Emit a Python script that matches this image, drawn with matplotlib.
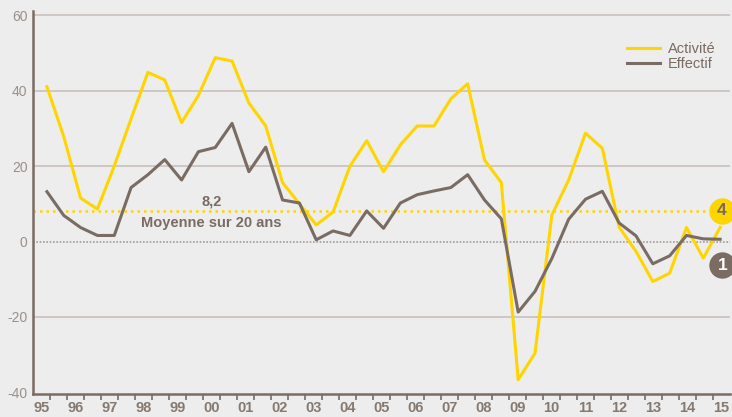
import numpy as np
import matplotlib
matplotlib.use("Agg")
import matplotlib.pyplot as plt

plt.rcParams['font.family'] = ['Liberation Sans', 'DejaVu Sans']

# semestrial values, 1995 H1 -> 2015 H1
activite = [41, 27.8, 11.5, 8.6, 20, 32.5, 44.8, 42.8, 31.5, 38.7,
            48.7, 47.8, 36.7, 30.6, 15.6, 10, 4.4, 7.8, 19.9, 26.7,
            18.5, 25.6, 30.6, 30.6, 37.8, 41.8, 21.6, 15.6, -36.6, -29.6,
            7, 16.3, 28.7, 24.7, 3.8, -2.6, -10.6, -8.4, 3.7, -4.4, 3.7]
effectif = [13.2, 6.9, 3.7, 1.6, 1.6, 14.3, 17.7, 21.7, 16.3, 23.8,
            24.9, 31.3, 18.5, 25, 11, 10.2, 0.45, 2.8, 1.6, 8.1,
            3.5, 10.2, 12.4, 13.4, 14.3, 17.7, 11, 6, -18.7, -13.2,
            -4.5, 5.9, 11.2, 13.3, 4.9, 1.5, -5.9, -3.8, 1.6, 0.7, 0.6]
years = ["95", "96", "97", "98", "99", "00", "01", "02", "03", "04", "05",
         "06", "07", "08", "09", "10", "11", "12", "13", "14", "15"]
moyenne = 8.2
badge_act = "4"
badge_eff = "1"

YELLOW = "#FFD500"
BROWN = "#7A6B63"
BG = "#EDEDED"
GRID = "#CCC4BF"

fig = plt.figure(figsize=(7.32, 4.17), dpi=100, facecolor=BG)
ax = fig.add_axes([33/732, 23/417, 697/732, 383.5/417], facecolor=BG)

xs = 0.82 + 0.99*np.arange(len(activite))

for v in [60, 40, 20, -20]:
    ax.axhline(v, color=GRID, lw=1.3, zorder=1)
ax.axhline(0, color="#A49C97", lw=1.2, ls=(0, (1, 1)), zorder=1)
ax.plot([0, 39.7], [moyenne, moyenne], color=YELLOW, lw=1.8, ls=(0, (1, 1.6)), zorder=2)

ax.plot(xs, activite, color=YELLOW, lw=2.2, zorder=3, label="Activité")
ax.plot(xs, effectif, color=BROWN, lw=2.2, zorder=4, label="Effectif")

ax.text(10.5, moyenne + 2.5, "8,2", color=BROWN, fontsize=10.5, fontweight="bold",
        ha="center", va="center")
ax.text(10.5, moyenne - 3.3, "Moyenne sur 20 ans", color=BROWN, fontsize=10.5,
        fontweight="bold", ha="center", va="center")

# badges at the right end
ax.plot([40.5], [moyenne], marker="o", ms=19, color=YELLOW, mec="none", clip_on=False, zorder=5)
ax.text(40.5, moyenne, badge_act, color=BROWN, fontsize=12.5, fontweight="bold",
        ha="center", va="center", zorder=6)
ax.plot([40.55], [-6.3], marker="o", ms=19, color=BROWN, mec="none", clip_on=False, zorder=5)
ax.text(40.55, -6.3, badge_eff, color="white", fontsize=12.5, fontweight="bold",
        ha="center", va="center", zorder=6)

ax.set_xlim(0, 41)
ax.set_ylim(-40.4, 61.2)

ax.set_yticks([60, 40, 20, 0, -20, -40])
ax.set_yticklabels(["60", "40", "20", "0", "-20", "-40"])
ax.tick_params(axis="y", length=0, pad=4, labelsize=10, labelcolor="#9A908A")

ax.set_xticks(np.arange(1, 41), minor=False)
ax.set_xticklabels([])
ax.tick_params(axis="x", length=4, width=1.2, color=BROWN, direction="out")
ax.set_xticks(0.5 + 2*np.arange(len(years)), minor=True)
ax.set_xticklabels(years, minor=True)
ax.tick_params(axis="x", which="minor", length=0, pad=5, labelsize=10.5, labelcolor="#857970")
for lb in ax.get_xticklabels(minor=True):
    lb.set_fontweight("bold")

for s in ["top", "right"]:
    ax.spines[s].set_visible(False)
ax.spines["left"].set_color(BROWN)
ax.spines["left"].set_linewidth(1.8)
ax.spines["bottom"].set_color(BROWN)
ax.spines["bottom"].set_linewidth(1.8)

leg = ax.legend(loc="upper right", bbox_to_anchor=(0.987, 0.934), frameon=False,
                fontsize=10.5, handlelength=2.3, handletextpad=0.5, labelspacing=0.1,
                borderaxespad=0)
for t in leg.get_texts():
    t.set_color(BROWN)

fig.savefig("out.png", dpi=100, facecolor=BG)
